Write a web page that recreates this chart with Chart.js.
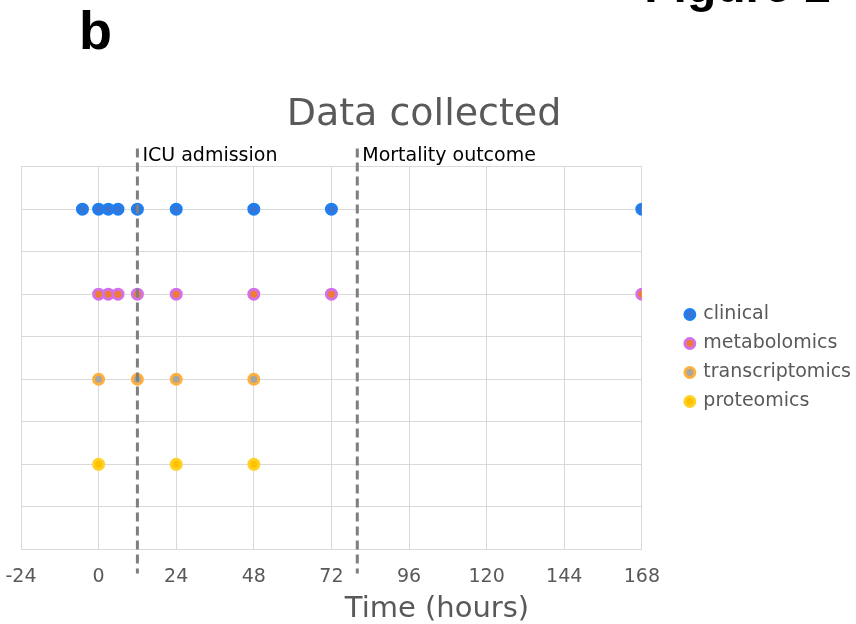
<!DOCTYPE html>
<html>
<head>
<meta charset="utf-8">
<title>Data collected</title>
<script src="https://cdn.jsdelivr.net/npm/chart.js@4.4.1/dist/chart.umd.min.js"></script>
<style>
    html, body {
        margin: 0;
        padding: 0;
        background: #FFFFFF;
        overflow: hidden;
    }
    #wrap {
        position: relative;
        width: 856px;
        height: 624px;
    }
    .panel-tag {
        position: absolute;
        font-family: 'Liberation Sans', Arial, sans-serif;
        font-weight: bold;
        color: #000000;
        line-height: 1;
        white-space: nowrap;
    }
</style>
</head>
<body>
<div id="wrap">
    <canvas id="timeline"></canvas>
    <div class="panel-tag" style="left: 79px; top: 3px; font-size: 54px;">b</div>
    <div class="panel-tag" style="right: 25px; top: -38px; font-size: 48px;">Figure 2</div>
</div>

<script>
// sampling times (hours from enrolment) per data type
const seriesNames = ['clinical', 'metabolomics', 'transcriptomics', 'proteomics'];
const clinicalHours = [-5, 0, 3, 6, 12, 24, 48, 72, 168];
const metabolomicsHours = [0, 3, 6, 12, 24, 48, 72, 168];
const transcriptomicsHours = [0, 12, 24, 48];
const proteomicsHours = [0, 24, 48];

// row each data type sits on
const rowLevels = [8, 6, 4, 2];

// reference events
const eventHours = [12, 80];
const eventLabels = ['ICU admission', 'Mortality outcome'];

// x axis ticks
const xTicks = [-24, 0, 24, 48, 72, 96, 120, 144, 168];

const borderColors = ['#1E7FF0', '#D46FE8', '#FFB03B', '#FFD124'];
const fillColors = ['#3A74D2', '#ED7D31', '#A5A5A5', '#FFC000'];

const FONT = "'DejaVu Sans', Verdana, sans-serif";
const TEXT_GREY = '#595959';
const GRID = '#D9D9D9';

Chart.defaults.font.family = FONT;
Chart.defaults.color = TEXT_GREY;

const hourLists = [clinicalHours, metabolomicsHours, transcriptomicsHours, proteomicsHours];

const datasets = seriesNames.map((name, i) => ({
    label: name,
    data: hourLists[i].map(h => ({ x: h, y: rowLevels[i] })),
    backgroundColor: fillColors[i],
    borderColor: borderColors[i],
    borderWidth: 3,
    pointRadius: 5,
    pointHoverRadius: 5,
    pointStyle: 'circle',
}));

/**
 * Dashed event markers, their captions and the x axis caption
 */
const eventMarkers = {
    id: 'eventMarkers',
    afterDatasetsDraw(chart) {
        const { ctx, chartArea, scales } = chart;
        ctx.save();
        eventHours.forEach((h, i) => {
            const x = scales.x.getPixelForValue(h);
            ctx.beginPath();
            ctx.setLineDash([9, 5]);
            ctx.lineWidth = 3;
            ctx.strokeStyle = '#7F7F7F';
            ctx.moveTo(x, chartArea.top - 18);
            ctx.lineTo(x, chartArea.bottom + 24);
            ctx.stroke();

            ctx.setLineDash([]);
            ctx.fillStyle = '#000000';
            ctx.font = '19px ' + FONT;
            ctx.textAlign = 'left';
            ctx.textBaseline = 'alphabetic';
            ctx.fillText(eventLabels[i], x + 5, chartArea.top - 6);
        });

        ctx.fillStyle = TEXT_GREY;
        ctx.font = '29px ' + FONT;
        ctx.textAlign = 'center';
        ctx.textBaseline = 'alphabetic';
        ctx.fillText('Time (hours)', chart.width / 2 + 9, 617);
        ctx.restore();
    },
};

new Chart(document.getElementById('timeline'), {
    type: 'scatter',
    data: { datasets },
    options: {
        responsive: true,
        maintainAspectRatio: false,
        animation: false,
        layout: {
            // uneven sides keep the title centred where the original has it
            padding: { top: 0, left: -13, right: -5, bottom: 19 },
        },
        plugins: {
            title: {
                display: true,
                text: 'Data collected',
                color: TEXT_GREY,
                font: { size: 38, weight: 'normal', lineHeight: 1.2 },
                padding: { top: 92, bottom: 29 },
            },
            legend: {
                display: true,
                position: 'right',
                align: 'center',
                fullSize: false,
                labels: {
                    usePointStyle: true,
                    boxWidth: 8,
                    boxHeight: 7,
                    padding: 10,
                    color: TEXT_GREY,
                    font: { size: 19 },
                },
            },
            tooltip: { enabled: false },
        },
        scales: {
            x: {
                type: 'linear',
                min: xTicks[0],
                max: xTicks[xTicks.length - 1],
                afterBuildTicks: scale => {
                    scale.ticks = xTicks.map(v => ({ value: v }));
                },
                grid: {
                    color: GRID,
                    lineWidth: 1,
                    drawTicks: false,
                    tickLength: 0,
                },
                border: { display: true, color: GRID },
                ticks: {
                    color: TEXT_GREY,
                    font: { size: 19, lineHeight: 2.4 },
                    padding: 5,
                    maxRotation: 0,
                },
            },
            y: {
                type: 'linear',
                min: 0,
                max: 9,
                grid: {
                    color: GRID,
                    lineWidth: 1,
                    drawTicks: false,
                    tickLength: 0,
                },
                border: { display: true, color: GRID },
                ticks: { display: false, stepSize: 1 },
                afterFit: scale => {
                    scale.width = 34;
                },
            },
            // hidden box keeping the legend clear of the plot
            gap: {
                type: 'linear',
                position: 'right',
                display: false,
                afterFit: scale => {
                    scale.width = 34;
                },
            },
        },
    },
    plugins: [eventMarkers],
});
</script>
</body>
</html>
